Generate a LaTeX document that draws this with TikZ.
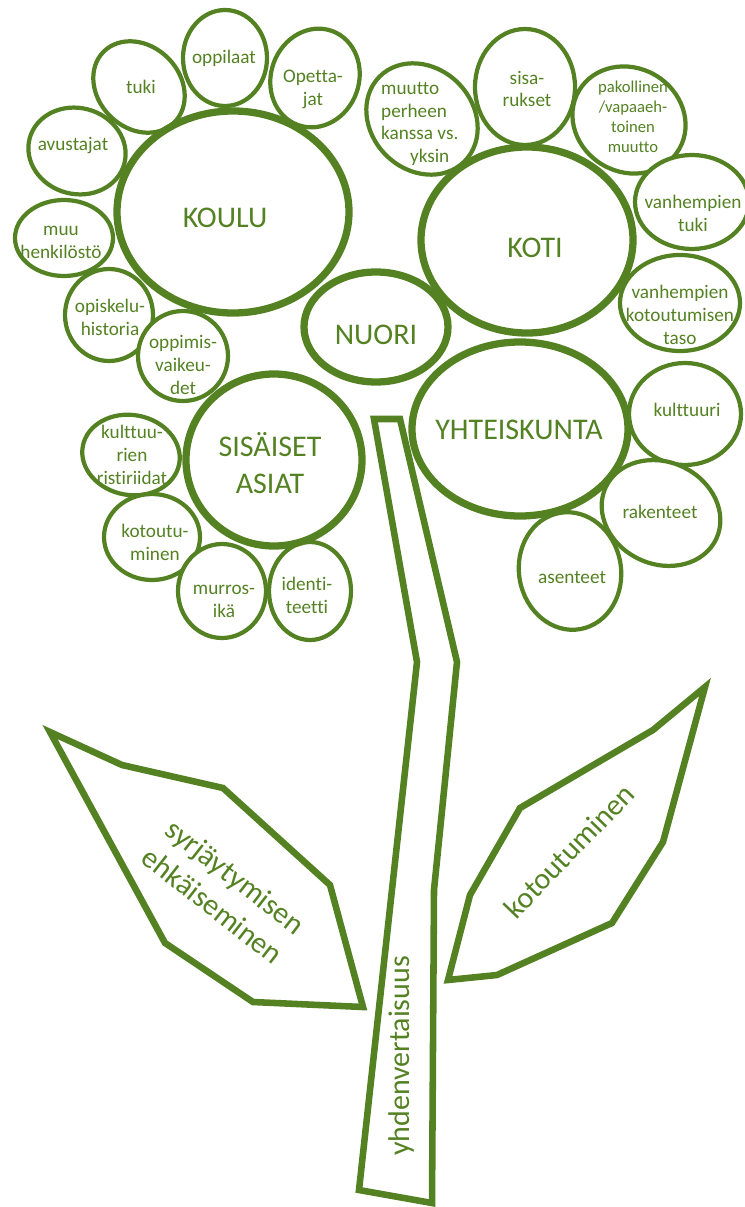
\documentclass[tikz,border=0pt]{standalone}
\usepackage{fontspec}
\setmainfont{Carlito}[Ligatures={NoCommon}]
\definecolor{leaf}{RGB}{84,130,35}

\begin{document}
\begin{tikzpicture}[x=0.03cm,y=-0.03cm,
    bub/.style={draw=leaf,fill=white,line width=3.6pt},
    big/.style={draw=leaf,fill=white,line width=6.2pt},
    stalk/.style={draw=leaf,line width=5.6pt,line join=miter},
    sm/.style={text=leaf,align=center,inner sep=0pt,font=\fontsize{16.4}{19.5}\selectfont},
    lg/.style={text=leaf,align=center,inner sep=0pt,font=\fontsize{25.6}{31.5}\selectfont}]
    \useasboundingbox (0,0) rectangle (744,1207);

    \draw[stalk] (374,419) -- (400,419) -- (457,662) -- (434,890) -- (432,1203) -- (359,1190) -- (417,662) -- cycle;
    \draw[stalk] (50,732) -- (122,765) -- (223,788) -- (330,885) -- (363,1007) -- (253,1002) -- (165,943) -- cycle;
    \draw[stalk] (705,687) -- (653,730) -- (520,808) -- (470,895) -- (448,980) -- (497,975) -- (612,923) -- (663,842) -- cycle;

    \node[lg,rotate=90] (tasa) at (401,1056) {yhdenvertaisuus};
    \node[lg,rotate=-38] (syrja) at (224,891) {syrjäytymisen\\ehkäiseminen};
    \node[lg,rotate=46] (kotout) at (569,851) {kotoutuminen};

    \draw[bub] (225,58) ellipse [x radius=42,y radius=48];
    \node[sm] (oppilaat) at (224,58) {oppilaat};
    \draw[bub,rotate around={-45:(139,87)}] (139,87) ellipse [x radius=50,y radius=41];
    \node[sm] (tuki) at (141,87) {tuki};
    \draw[bub,rotate around={-20:(315,78)}] (315,78) ellipse [x radius=44,y radius=50];
    \node[sm] (opettajat) at (313,89) {Opetta-\\jat};
    \draw[bub,rotate around={-15:(77,151)}] (77,151) ellipse [x radius=49,y radius=43];
    \node[sm] (avustajat) at (73,146) {avustajat};
    \draw[bub] (64,238) ellipse [x radius=49,y radius=38];
    \node[sm] (muu) at (61,242) {muu\\henkilöstö};
    \draw[bub] (109,315) ellipse [x radius=44,y radius=46];
    \node[sm] (historia) at (110,317) {opiskelu-\\historia};
    \draw[bub] (183,356) ellipse [x radius=45,y radius=45];
    \node[sm] (vaikeudet) at (183,365) {oppimis-\\vaikeu-\\det};

    \draw[bub,rotate around={-45:(422,119)}] (422,119) ellipse [x radius=60,y radius=51];
    \node[sm,align=left,anchor=west] (muutto) at (381,124) {muutto\\perheen\\kanssa vs.\\\hspace*{1.5em}yksin};
    \draw[bub] (525,87) ellipse [x radius=50,y radius=58];
    \node[sm] (sisarukset) at (527,89) {sisa-\\rukset};
    \draw[bub,rotate around={-30:(629,120)}] (629,120) ellipse [x radius=58,y radius=52];
    \node[sm,font=\fontsize{14.2}{17}\selectfont] (pakollinen) at (633,117) {pakollinen\\/vapaaeh-\\toinen\\muutto};
    \draw[bub] (692,202) ellipse [x radius=57,y radius=47];
    \node[sm] (vtuki) at (693,213) {vanhempien\\tuki};
    \draw[bub] (680,303) ellipse [x radius=60,y radius=48];
    \node[sm] (vtaso) at (680,315) {vanhempien\\kotoutumisen\\taso};

    \draw[bub] (685,414) ellipse [x radius=56,y radius=51];
    \node[sm] (kulttuuri) at (687,410) {kulttuuri};
    \draw[bub,rotate around={-25:(661,513)}] (661,513) ellipse [x radius=61,y radius=51];
    \node[sm] (rakenteet) at (660,512) {rakenteet};
    \draw[bub,rotate around={10:(570,571)}] (570,571) ellipse [x radius=51,y radius=59];
    \node[sm] (asenteet) at (572,577) {asenteet};

    \draw[bub,rotate around={-10:(131,455)}] (131,455) ellipse [x radius=49,y radius=40];
    \node[sm] (ristiriidat) at (132,455) {kulttuu-\\rien\\ristiriidat};
    \draw[bub] (152,537) ellipse [x radius=48,y radius=43];
    \node[sm] (kotoutuminen) at (155,542) {kotoutu-\\minen};
    \draw[bub] (222,591) ellipse [x radius=44,y radius=47];
    \node[sm] (murrosika) at (224,601) {murros-\\ikä};
    \draw[bub] (310,591) ellipse [x radius=41,y radius=49];
    \node[sm] (identiteetti) at (307,595) {identi-\\teetti};

    \draw[big] (233,212) ellipse [x radius=116,y radius=101];
    \node[lg] (koulu) at (225,218) {KOULU};
    \draw[big] (527,240) ellipse [x radius=106,y radius=93];
    \node[lg] (koti) at (535,248) {KOTI};
    \draw[big] (520,429) ellipse [x radius=108,y radius=87];
    \node[lg] (yhteiskunta) at (519,430) {YHTEISKUNTA};
    \draw[big] (274,460) ellipse [x radius=88,y radius=86];
    \node[lg] (sisaiset) at (270,463) {SISÄISET\\ASIAT};
    \draw[big] (376,327) ellipse [x radius=72,y radius=55];
    \node[lg] (nuori) at (376,335) {NUORI};
\end{tikzpicture}
\end{document}
